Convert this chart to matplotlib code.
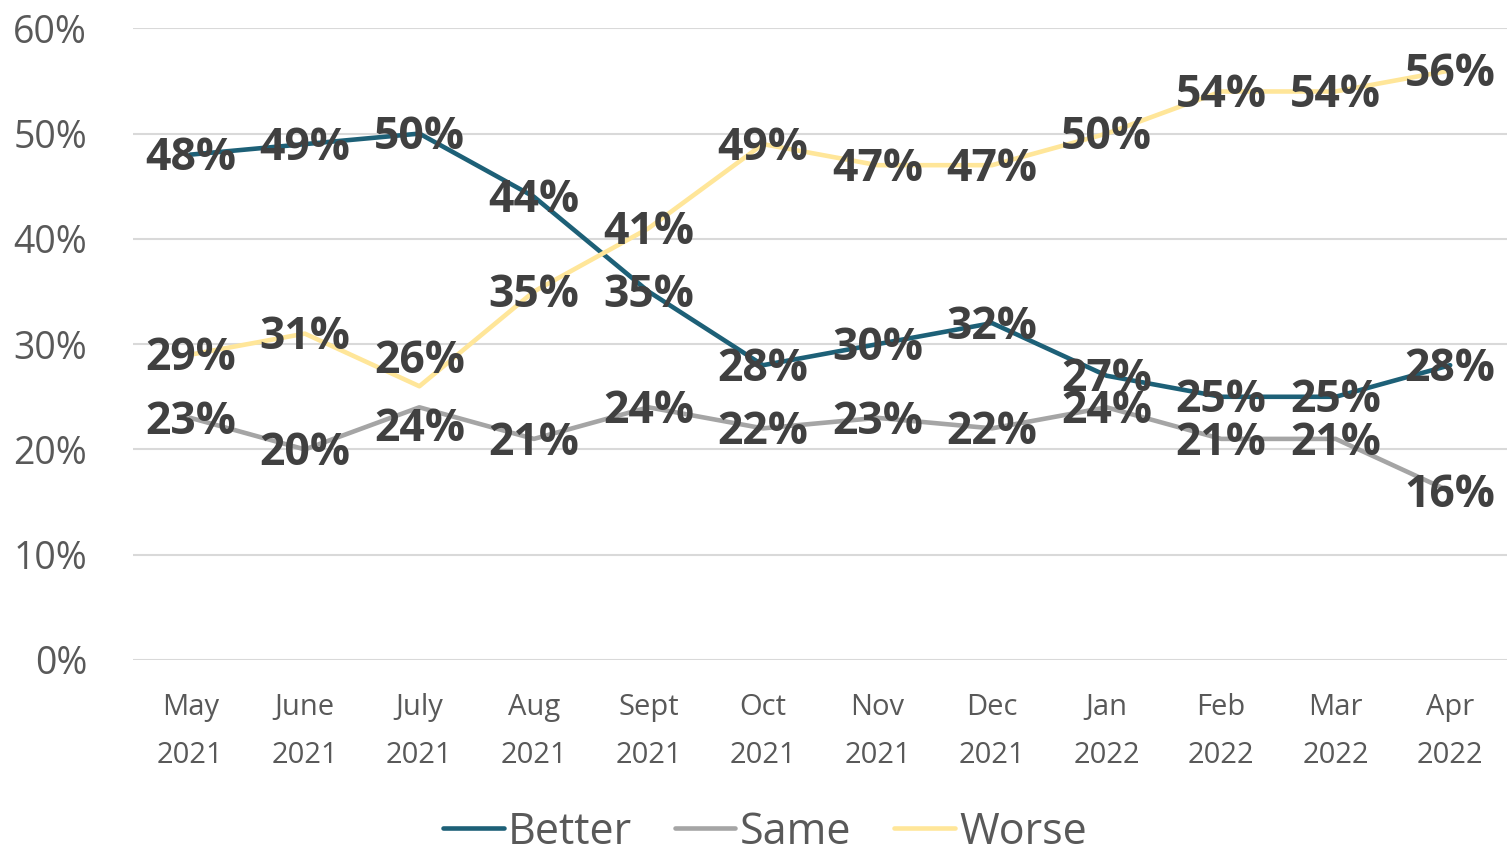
import matplotlib

matplotlib.use("Agg")
import matplotlib.pyplot as plt  # noqa: E402

months = ["May\n2021", "June\n2021", "July\n2021", "Aug\n2021", "Sept\n2021", "Oct\n2021",
          "Nov\n2021", "Dec\n2021", "Jan\n2022", "Feb\n2022", "Mar\n2022", "Apr\n2022"]
better = [48, 49, 50, 44, 35, 28, 30, 32, 27, 25, 25, 28]
same = [23, 20, 24, 21, 24, 22, 23, 22, 24, 21, 21, 16]
worse = [29, 31, 26, 35, 41, 49, 47, 47, 50, 54, 54, 56]

BLUE, GREY, YELLOW = "#1d6077", "#a5a5a5", "#ffe699"
TICK, LABEL = "#595959", "#404040"

# labels nudged off their points in the original (series, index) -> points
NUDGE = {("Worse", 2): 21, ("Same", 2): -13}

plt.rcParams["font.family"] = ["Open Sans", "DejaVu Sans"]

fig = plt.figure(figsize=(15.12, 8.58), dpi=100)
ax = fig.add_axes([0.088, 0.2308, 0.909, 0.7362])

x = list(range(len(months)))
series = [("Better", better, BLUE), ("Same", same, GREY), ("Worse", worse, YELLOW)]
for name, vals, col in series:
    ax.plot(x, vals, color=col, lw=3.3, label=name, solid_capstyle="round", zorder=2)
for name, vals, col in series:
    for i, v in enumerate(vals):
        dy = NUDGE.get((name, i), 0) - 3
        ax.annotate(f"{v}%", (x[i], v), xytext=(0, dy), textcoords="offset points",
                    ha="center", va="center", fontsize=32, fontweight="bold",
                    color=LABEL, zorder=5)

ax.set_xlim(-0.5, len(months) - 0.5)
ax.set_ylim(0, 60)
ax.set_yticks(range(0, 61, 10))
ax.set_yticklabels([f"{t}%" for t in range(0, 61, 10)])
ax.set_xticks(x)
ax.set_xticklabels(months, linespacing=1.85)
ax.tick_params(axis="y", length=0, pad=33, labelsize=27, labelcolor=TICK)
ax.tick_params(axis="x", length=0, pad=24, labelsize=21, labelcolor=TICK)
ax.grid(axis="y", color="#d9d9d9", lw=1.5, zorder=0)
ax.set_axisbelow(True)
for s in ax.spines.values():
    s.set_visible(False)

fig.legend(loc="center", bbox_to_anchor=(0.506, 0.03), ncol=3, frameon=False,
           fontsize=31, labelcolor=TICK, handlelength=1.4, handletextpad=0.1,
           columnspacing=1.0)

fig.savefig("out.png", dpi=100)
